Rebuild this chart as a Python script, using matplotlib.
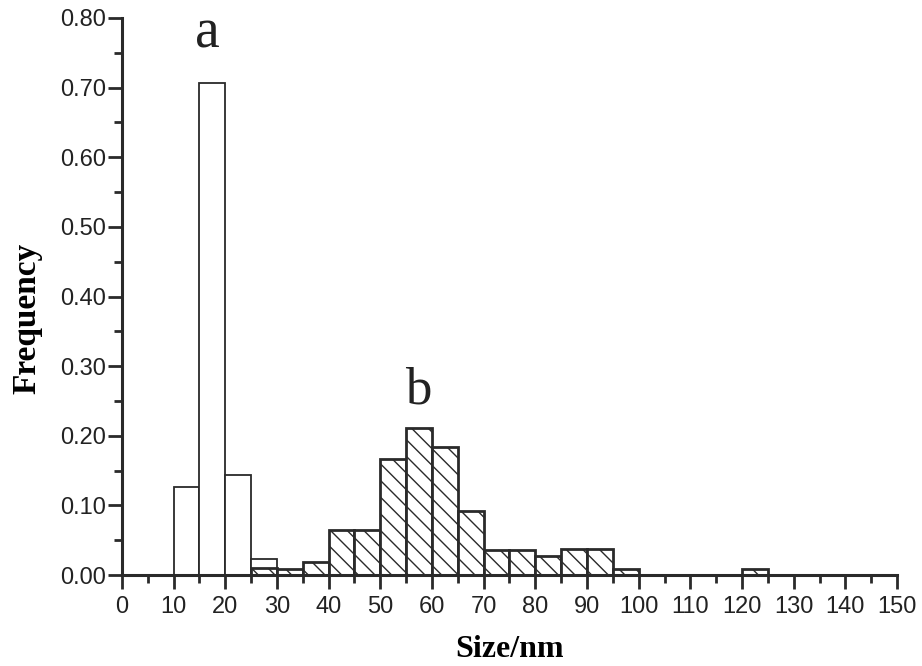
import numpy as np
import matplotlib
matplotlib.use("Agg")
import matplotlib.pyplot as plt
from matplotlib.ticker import MultipleLocator, FormatStrFormatter

# bin left edges (nm) and frequencies
bins_a = [10, 15, 20, 25]
freq_a = [0.126, 0.707, 0.144, 0.023]

bins_b = [25, 30, 35, 40, 45, 50, 55, 60, 65, 70, 75, 80, 85, 90, 95, 120]
freq_b = [0.010, 0.009, 0.019, 0.065, 0.065, 0.167, 0.211, 0.184, 0.092,
          0.036, 0.036, 0.027, 0.037, 0.037, 0.009, 0.009]

bin_width = 5
ink = "#2a2a2a"

plt.rcParams["hatch.linewidth"] = 1.0
plt.rcParams["hatch.color"] = ink

fig = plt.figure(figsize=(9.22, 6.66), dpi=100)
ax = fig.add_axes([0.1323, 0.1366, 0.8406, 0.8364])

# sample a: open bars
ax.bar(bins_a, freq_a, width=bin_width, align="edge",
       facecolor="white", edgecolor=ink, linewidth=1.3, zorder=2)
# sample b: hatched bars drawn on top
ax.bar(bins_b, freq_b, width=bin_width, align="edge",
       facecolor="white", edgecolor=ink, linewidth=2.0,
       hatch="\\\\", zorder=3)

ax.set_xlim(0, 150)
ax.set_ylim(0, 0.80)

for side in ("top", "right"):
    ax.spines[side].set_visible(False)
for side in ("left", "bottom"):
    ax.spines[side].set_linewidth(2.2)
    ax.spines[side].set_color(ink)
    ax.spines[side].set_zorder(4)

ax.xaxis.set_major_locator(MultipleLocator(10))
ax.xaxis.set_minor_locator(MultipleLocator(5))
ax.yaxis.set_major_locator(MultipleLocator(0.1))
ax.yaxis.set_minor_locator(MultipleLocator(0.05))
ax.yaxis.set_major_formatter(FormatStrFormatter("%.2f"))

ax.tick_params(axis="both", which="major", direction="out", length=10,
               width=2.0, color=ink, labelsize=17, labelcolor="#222222")
ax.tick_params(axis="both", which="minor", direction="out", length=5.5,
               width=2.0, color=ink)
ax.tick_params(axis="x", which="major", pad=5)
ax.tick_params(axis="y", which="major", pad=1.5)
for lab in ax.get_xticklabels() + ax.get_yticklabels():
    lab.set_family("Liberation Sans")

serif = "Liberation Serif"
ax.set_xlabel("Size/nm", fontsize=23, fontweight="bold", family=serif,
              labelpad=12)
ax.set_ylabel("Frequency", fontsize=24, fontweight="bold", family=serif,
              labelpad=14)
ax.yaxis.set_label_coords(-0.103, 0.46)

ax.text(16.5, 0.757, "a", fontsize=40, family=serif, ha="center",
        va="baseline", color="#222222")
ax.text(57.3, 0.247, "b", fontsize=38, family=serif, ha="center",
        va="baseline", color="#222222")

fig.savefig("out.png", dpi=100)
